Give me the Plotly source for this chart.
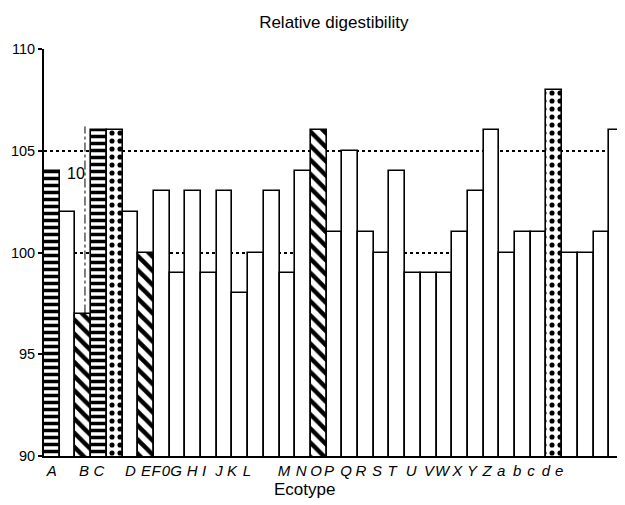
import plotly.graph_objects as go

# Bar values (relative digestibility), left to right
values = [104, 102, 97, 106, 106, 102, 100, 103, 99, 103, 99, 103, 98, 100, 103, 99,
          104, 106, 101, 105, 101, 100, 104, 99, 99, 99, 101, 103, 106, 100, 101, 101,
          108, 100, 100, 101, 106]
# Fill pattern of each bar: "-" horizontal stripes, "\\" diagonal, "." dots, "" plain
patterns = ["-", "", "\\", "-", ".", "", "\\", "", "", "", "", "", "", "", "", "",
            "", "\\", "", "", "", "", "", "", "", "", "", "", "", "", "", "",
            ".", "", "", "", ""]

# Ecotype tick labels and where they sit along the bar sequence
tick_labels = ["A", "B", "C", "D", "E", "F", "0", "G", "H", "I", "J", "K", "L",
               "M", "N", "O", "P", "Q", "R", "S", "T", "U", "V", "W", "X", "Y", "Z",
               "a", "b", "c", "d", "e"]
tick_pos = [0.0, 2.05, 3.0, 5.0, 6.0, 6.63, 7.27, 7.91, 8.93, 9.69, 10.65, 11.47, 12.43,
            14.79, 15.87, 16.82, 17.65, 18.74, 19.69, 20.71, 21.67, 22.88, 24.02, 24.85,
            25.81, 26.76, 27.72, 28.61, 29.63, 30.52, 31.47, 32.30]

y_ticks = [90, 95, 100, 105, 110]

FONT = "Liberation Sans, Arial, Helvetica, sans-serif"

x = list(range(len(values)))

pat_size = {"-": 7, "\\": 10, ".": 8, "": 8}
pat_solid = {"-": 0.5, "\\": 0.45, ".": 0.32, "": 0.3}

fig = go.Figure()
fig.add_trace(go.Bar(
    x=x, y=values,
    marker=dict(
        color="white",
        line=dict(color="black", width=1.6),
        pattern=dict(shape=patterns, fgcolor="black", bgcolor="white",
                     size=[pat_size[p] for p in patterns],
                     solidity=[pat_solid[p] for p in patterns],
                     fillmode="replace"),
    ),
    width=1.0,
    showlegend=False,
))

# stray fragment seen in the reference
fig.add_shape(type="line", x0=2.11, x1=2.11, y0=97, y1=106.2, xref="x", yref="y",
              line=dict(color="black", width=1, dash="dashdot"), layer="above")
fig.add_annotation(x=1.55, y=103.9, xref="x", yref="y", text="10", showarrow=False,
                   font=dict(family=FONT, size=16, color="black"))

fig.add_annotation(x=0.449, y=-0.0835, xref="paper", yref="paper", text="Ecotype",
                   showarrow=False, yanchor="middle", xanchor="center",
                   font=dict(family=FONT, size=17, color="black"))

fig.update_layout(
    width=617, height=497,
    margin=dict(l=36, r=0, t=41, b=49, autoexpand=False),
    paper_bgcolor="white", plot_bgcolor="white",
    bargap=0,
    title=dict(text="Relative digestibility", x=0.528, xanchor="center",
               y=1 - 14 / 497, yanchor="middle",
               font=dict(family=FONT, size=17, color="black")),
    font=dict(family=FONT, color="black"),
    xaxis=dict(
        range=[-0.5, 36.5],
        tickmode="array", tickvals=tick_pos,
        ticktext=["<i>%s</i>" % t for t in tick_labels],
        tickfont=dict(family=FONT, size=15, color="black"),
        showgrid=False, zeroline=False,
        showline=True, linecolor="black", linewidth=2,
        ticks="", tickangle=0,
    ),
    yaxis=dict(
        range=[90, 110],
        tickmode="array", tickvals=y_ticks,
        tickfont=dict(family=FONT, size=14.5, color="black"),
        showgrid=True, gridcolor="black", griddash="dot", gridwidth=1.5,
        zeroline=False,
        showline=True, linecolor="black", linewidth=2,
        ticks="outside", ticklen=4, tickcolor="black", tickwidth=1.5,
    ),
)

fig.write_html("out.html")
